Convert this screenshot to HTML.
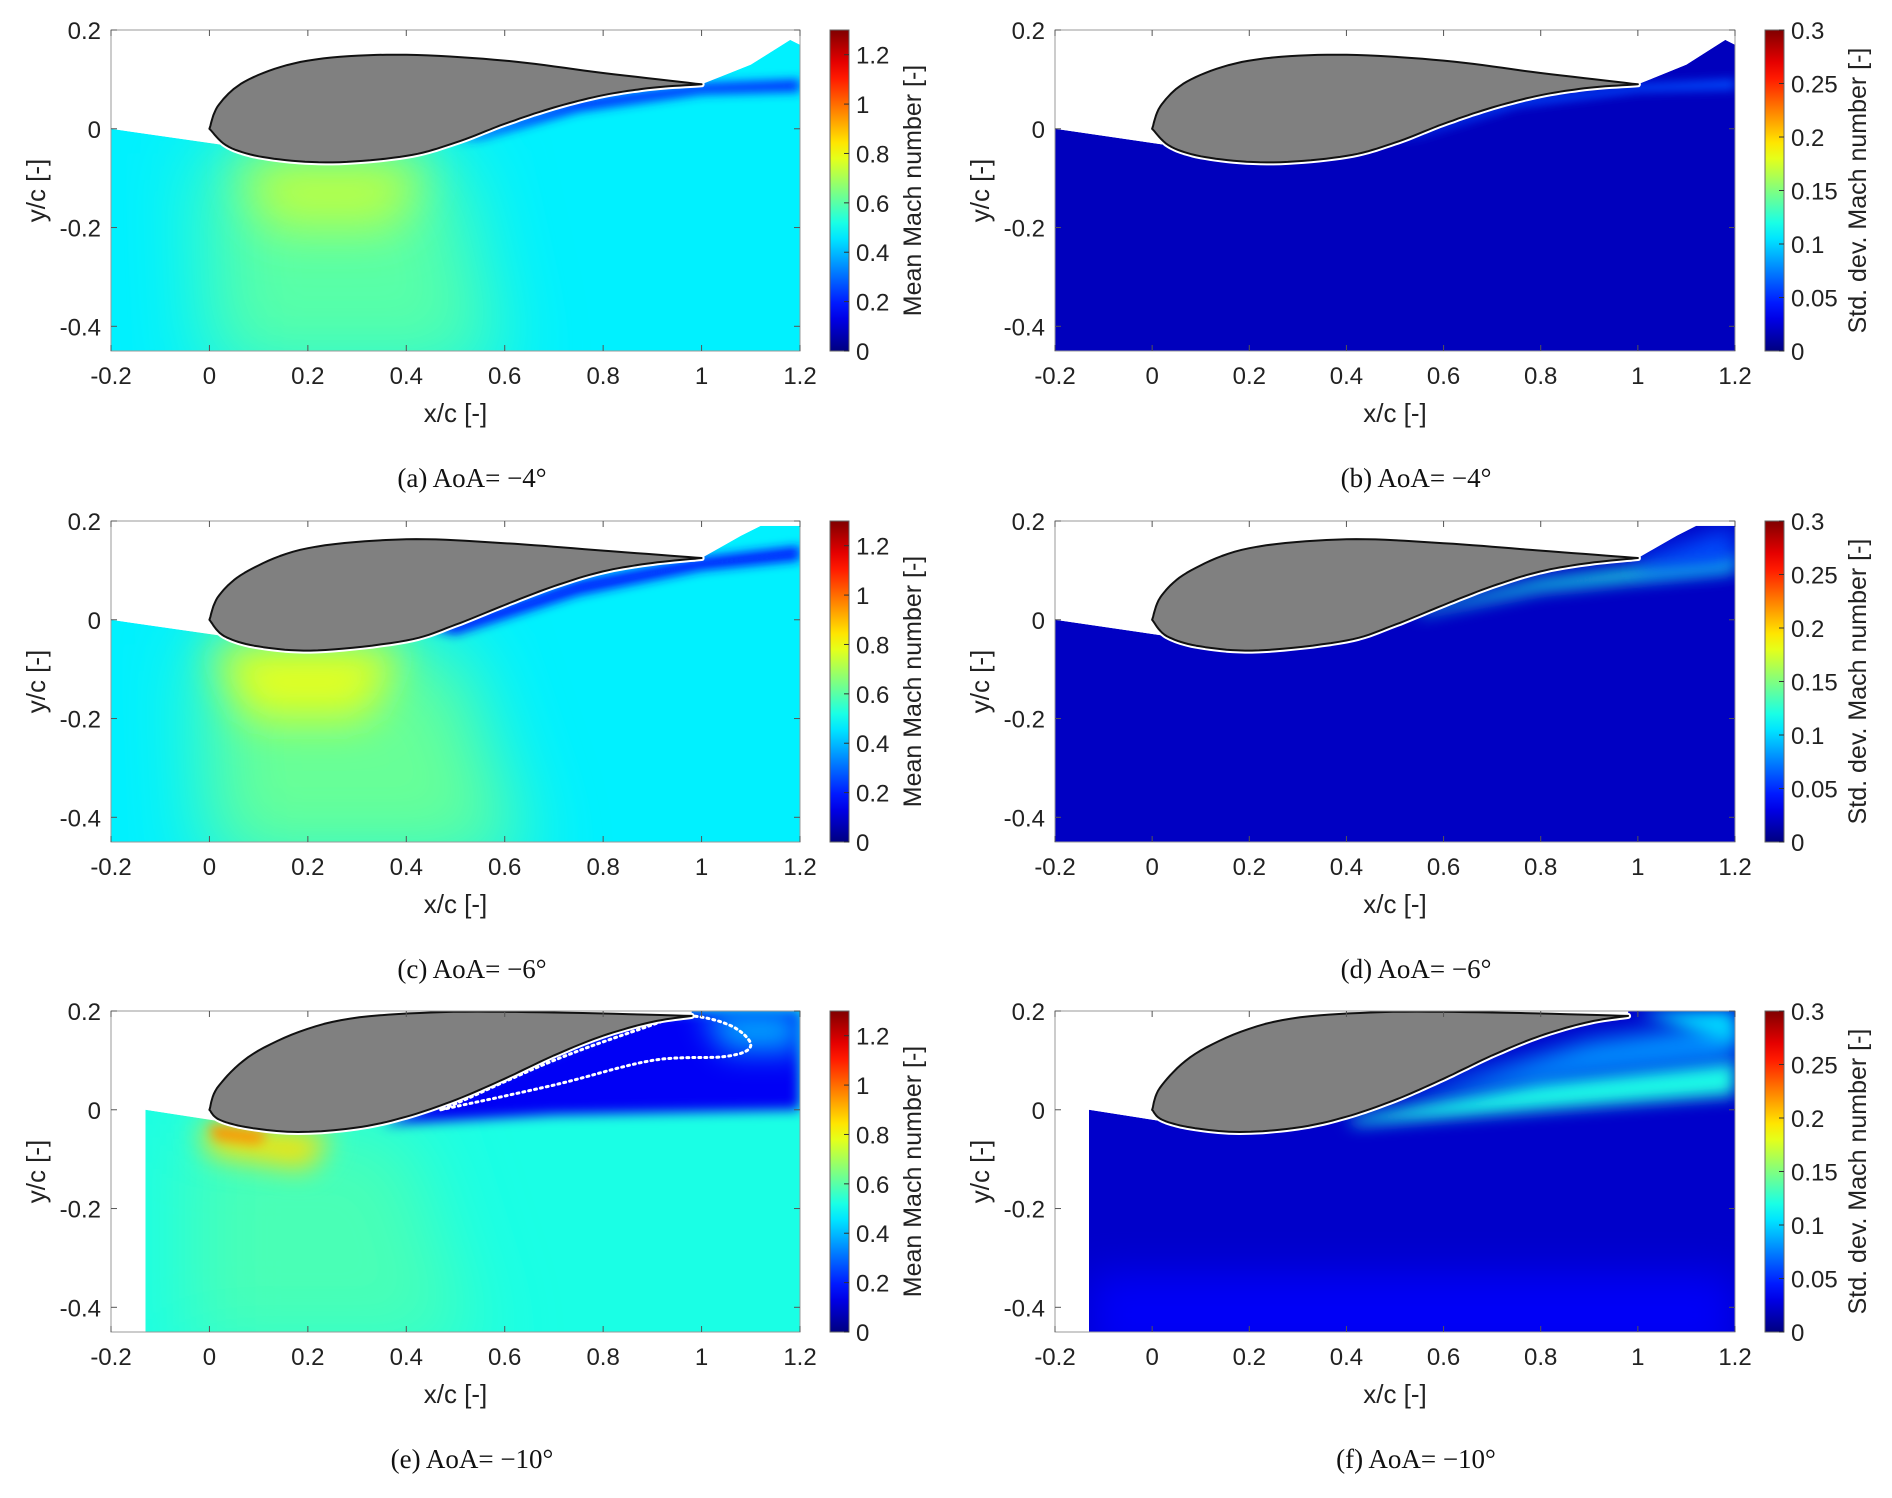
<!DOCTYPE html>
<html><head><meta charset="utf-8">
<style>
body{margin:0;background:#fff;}
svg text{font-family:"Liberation Sans",sans-serif;}
.cap{font-family:"Liberation Serif",serif;font-size:27px;}
</style></head>
<body>
<svg id="fig" xmlns="http://www.w3.org/2000/svg" width="1892" height="1493" viewBox="0 0 1892 1493"></svg>
<script>
const xTicks=[-0.2,0,0.2,0.4,0.6,0.8,1,1.2];
const yTicks=[0.2,0,-0.2,-0.4];
const meanTicks=[0,0.2,0.4,0.6,0.8,1,1.2];
const stdTicks=[0,0.05,0.1,0.15,0.2,0.25,0.3];
const captions=["(a) AoA= \u22124\u00b0","(b) AoA= \u22124\u00b0","(c) AoA= \u22126\u00b0","(d) AoA= \u22126\u00b0","(e) AoA= \u221210\u00b0","(f) AoA= \u221210\u00b0"];
const up4=[[0,0],[0.02,0.05],[0.08,0.1],[0.2,0.138],[0.38,0.15],[0.6,0.138],[0.8,0.113],[1.0,0.09]];
const lo4=[[0,0],[0.04,-0.037],[0.12,-0.059],[0.25,-0.068],[0.4,-0.055],[0.5,-0.028],[0.6,0.01],[0.7,0.043],[0.8,0.068],[0.9,0.083],[1.0,0.09]];
const up6=[[0,0],[0.02,0.05],[0.08,0.1],[0.2,0.145],[0.4,0.163],[0.6,0.155],[0.8,0.14],[1.0,0.125]];
const lo6=[[0,0],[0.03,-0.033],[0.1,-0.054],[0.22,-0.062],[0.4,-0.042],[0.5,-0.01],[0.6,0.03],[0.7,0.068],[0.8,0.098],[0.9,0.115],[1.0,0.125]];
const up10=[[0,0],[0.02,0.05],[0.1,0.12],[0.25,0.178],[0.45,0.197],[0.7,0.197],[0.98,0.19]];
const lo10=[[0,0],[0.02,-0.02],[0.08,-0.036],[0.18,-0.045],[0.3,-0.036],[0.4,-0.014],[0.5,0.02],[0.6,0.063],[0.7,0.11],[0.8,0.15],[0.9,0.178],[0.98,0.19]];
const pre4=[[-0.2,0]], post4=[[1.1,0.13],[1.18,0.18],[1.2,0.17]];
const pre6=[[-0.2,0]], post6=[[1.08,0.17],[1.12,0.19],[1.2,0.19]];
const pre10=[[-0.13,0]], post10=[[0.98,0.2],[1.2,0.2]];
const fieldA=[[[[-0.02,-0.05],[0.5,-0.05],[0.6,-0.5],[0.0,-0.5]],0.6,40],[[[0.05,-0.06],[0.45,-0.06],[0.38,-0.2],[0.12,-0.2]],0.73,25],[[[0.5,-0.025],[0.75,0.06],[1.0,0.092],[1.2,0.1],[1.2,0.075],[1.0,0.07],[0.75,0.035],[0.55,-0.02]],0.22,5]];
const fieldB=[[[[0.5,-0.025],[0.75,0.06],[1.0,0.09],[1.2,0.1],[1.2,0.08],[1.0,0.075],[0.75,0.045],[0.55,-0.015]],0.06,5]];
const fieldC=[[[[-0.02,-0.05],[0.5,-0.05],[0.65,-0.5],[0.0,-0.5]],0.62,40],[[[0.0,-0.05],[0.4,-0.05],[0.32,-0.2],[0.08,-0.2]],0.78,22],[[[0.45,-0.02],[0.75,0.08],[1.0,0.127],[1.2,0.15],[1.2,0.12],[1.0,0.1],[0.75,0.05],[0.5,-0.03]],0.2,5]];
const fieldD=[[[[0.55,0.02],[0.8,0.08],[1.2,0.13],[1.2,0.1],[0.8,0.06],[0.55,0.01]],0.12,8],[[[1.0,0.125],[1.2,0.19],[1.2,0.11],[1.0,0.1]],0.06,12]];
const fieldE=[[[[-0.05,-0.03],[0.4,-0.03],[0.55,-0.5],[-0.05,-0.5]],0.58,40],[[[0.35,-0.03],[0.7,-0.01],[1.2,0.0],[1.2,0.2],[0.9,0.2],[0.6,0.08]],0.15,6],[[[-0.02,-0.03],[0.25,-0.05],[0.2,-0.12],[0.0,-0.09]],0.85,14],[[[0,-0.03],[0.12,-0.045],[0.1,-0.07],[0.01,-0.06]],0.95,6],[[[1.0,0.2],[1.2,0.2],[1.2,0.12],[1.05,0.12]],0.38,15]];
const fieldF=[[[[0.4,-0.02],[0.8,0.06],[1.2,0.1],[1.2,0.03],[0.8,0.0],[0.42,-0.03]],0.12,8],[[[0.5,0.02],[0.9,0.14],[1.2,0.18],[1.2,0.1],[0.9,0.07]],0.08,12],[[[1.0,0.2],[1.2,0.2],[1.2,0.13]],0.1,8],[[[-0.13,-0.33],[1.2,-0.33],[1.2,-0.5],[-0.13,-0.5]],0.035,20]];
const contourE=[[0.47,0.0],[0.7,0.05],[0.9,0.1],[1.05,0.108],[1.1,0.13],[1.06,0.17],[0.97,0.19],[0.88,0.165],[0.7,0.1],[0.5,0.012],[0.47,0.0]];
const panels=[
 {up:up4,lo:lo4,pre:pre4,post:post4,field:fieldA,base:0.47,max:1.3,std:false,row:0,col:0,left:-0.2},
 {up:up4,lo:lo4,pre:pre4,post:post4,field:fieldB,base:0.018,max:0.3,std:true,row:0,col:1,left:-0.2},
 {up:up6,lo:lo6,pre:pre6,post:post6,field:fieldC,base:0.47,max:1.3,std:false,row:1,col:0,left:-0.2},
 {up:up6,lo:lo6,pre:pre6,post:post6,field:fieldD,base:0.02,max:0.3,std:true,row:1,col:1,left:-0.2},
 {up:up10,lo:lo10,pre:pre10,post:post10,field:fieldE,base:0.52,max:1.3,std:false,row:2,col:0,left:-0.13},
 {up:up10,lo:lo10,pre:pre10,post:post10,field:fieldF,base:0.022,max:0.3,std:true,row:2,col:1,left:-0.13}
];
const NS="http://www.w3.org/2000/svg";
const svg=document.getElementById('fig');
function el(t,a,p){const e=document.createElementNS(NS,t);for(const k in a)e.setAttribute(k,a[k]);(p||svg).appendChild(e);return e;}
function cl(v){return Math.max(0,Math.min(1,v));}
function jet(v){const r=cl(1.5-Math.abs(4*v-3)),g=cl(1.5-Math.abs(4*v-2)),b=cl(1.5-Math.abs(4*v-1));return `rgb(${Math.round(r*255)},${Math.round(g*255)},${Math.round(b*255)})`;}
function smooth(pts,n){const out=[];for(let i=0;i<pts.length-1;i++){const p0=pts[Math.max(0,i-1)],p1=pts[i],p2=pts[i+1],p3=pts[Math.min(pts.length-1,i+2)];for(let k=0;k<n;k++){const t=k/n,t2=t*t,t3=t2*t;const f=j=>0.5*((2*p1[j])+(-p0[j]+p2[j])*t+(2*p0[j]-5*p1[j]+4*p2[j]-p3[j])*t2+(-p0[j]+3*p1[j]-3*p2[j]+p3[j])*t3);out.push([f(0),f(1)]);}}out.push(pts[pts.length-1]);return out;}
const rowTop=[30,521,1011], H=321;
const colL=[111,1055], colW=[689,680], cbX=[830,1765];
const defs=el('defs',{});
const lg=el('linearGradient',{id:'jetg',x1:0,y1:1,x2:0,y2:0},defs);
for(let i=0;i<=20;i++){el('stop',{offset:i/20,'stop-color':jet(i/20)},lg);}
[5,6,8,12,14,15,20,22,25,40].forEach(s=>{const f=el('filter',{id:'b'+s,filterUnits:'userSpaceOnUse',x:0,y:0,width:1892,height:1493},defs);el('feGaussianBlur',{stdDeviation:s},f);});
panels.forEach((p,i)=>{
 const L=colL[p.col],W=colW[p.col],T=rowTop[p.row];
 const X=v=>L+(v+0.2)/1.4*W, Y=v=>T+(0.2-v)/0.65*H;
 const P=q=>X(q[0]).toFixed(1)+','+Y(q[1]).toFixed(1);
 const g=el('g',{});
 
 
 const upS=smooth(p.up,10), loS=smooth(p.lo,10);
 const loTail=loS.filter(q=>q[0]>=0.03);
 let pts=[[p.left,-0.45]].concat(p.pre,loTail,p.post,[[1.2,-0.45]]);
 const d='M'+pts.map(P).join('L')+'Z';
 const cp=el('clipPath',{id:'cp'+i},defs);el('path',{d:d},cp);
 const fg=el('g',{'clip-path':`url(#cp${i})`},g);
 const bg=el('path',{d:d,fill:jet(p.base/p.max)},fg);
 
 
 p.field.forEach(f=>{
  const poly=el('polygon',{points:f[0].map(P).join(' '),fill:jet(f[1]/p.max),filter:`url(#b${f[2]})`},fg);
  
  
 });
 if(i===4){
  const c=el('path',{d:'M'+smooth(contourE,8).map(P).join('L'),fill:'none',stroke:'#fff','stroke-width':3,'stroke-dasharray':'2 4','stroke-linecap':'round'},g);
  
  
 }
 const foil=upS.concat(loS.slice().reverse());
 const fd='M'+foil.map(P).join('L')+'Z';
 el('path',{d:fd,fill:'none',stroke:'#fff','stroke-width':6,'stroke-linejoin':'round'},g);
 const af=el('path',{d:fd,fill:'#808080',stroke:'#111','stroke-width':2,'stroke-linejoin':'round'},g);
 
 
 el('rect',{x:L,y:T,width:W,height:H,fill:'none',stroke:'#999','stroke-width':1},g);
 xTicks.forEach(t=>{
  el('line',{x1:X(t),x2:X(t),y1:T+H,y2:T+H-6,stroke:'#555'},g);
  el('line',{x1:X(t),x2:X(t),y1:T,y2:T+6,stroke:'#555'},g);
  const tx=el('text',{x:X(t),y:T+H+33,'font-size':24,'text-anchor':'middle',fill:'#222'},g);tx.textContent=String(t);
  
  
 });
 yTicks.forEach(t=>{
  el('line',{x1:L,x2:L+6,y1:Y(t),y2:Y(t),stroke:'#555'},g);
  el('line',{x1:L+W,x2:L+W-6,y1:Y(t),y2:Y(t),stroke:'#555'},g);
  const ty=el('text',{x:L-10,y:Y(t)+9,'font-size':24,'text-anchor':'end',fill:'#222'},g);ty.textContent=String(t);
  
  
 });
 const xl=el('text',{x:L+W/2,y:T+H+71,'font-size':26,'text-anchor':'middle',fill:'#222'},g);xl.textContent='x/c [-]';
 
 
 const yl=el('text',{x:0,y:0,'font-size':26,'text-anchor':'middle',fill:'#222',transform:`translate(${L-66},${T+H/2}) rotate(-90)`},g);yl.textContent='y/c [-]';
 
 
 const cx=cbX[p.col];
 const cb=el('rect',{x:cx,y:T,width:19,height:H,fill:'url(#jetg)',stroke:'#666','stroke-width':1},g);
 
 
 const ticks=p.std?stdTicks:meanTicks;
 ticks.forEach(t=>{
  const yy=T+H-t/p.max*H;
  el('line',{x1:cx+19,x2:cx+14,y1:yy,y2:yy,stroke:'#333'},g);
  const ct=el('text',{x:cx+26,y:yy+9,'font-size':24,fill:'#222'},g);ct.textContent=String(t);
  
  
 });
 const cl2=el('text',{x:0,y:0,'font-size':25,'text-anchor':'middle',fill:'#222',transform:`translate(${cx+(p.std?101:91)},${T+H/2}) rotate(-90)`},g);
 cl2.textContent=p.std?'Std. dev. Mach number [-]':'Mean Mach number [-]';
 
 
 const cap=el('text',{x:p.col?1416:472,y:T+H+136,'text-anchor':'middle',fill:'#111',class:'cap'},g);cap.textContent=captions[i];
 
 
});
</script>
</body></html>
